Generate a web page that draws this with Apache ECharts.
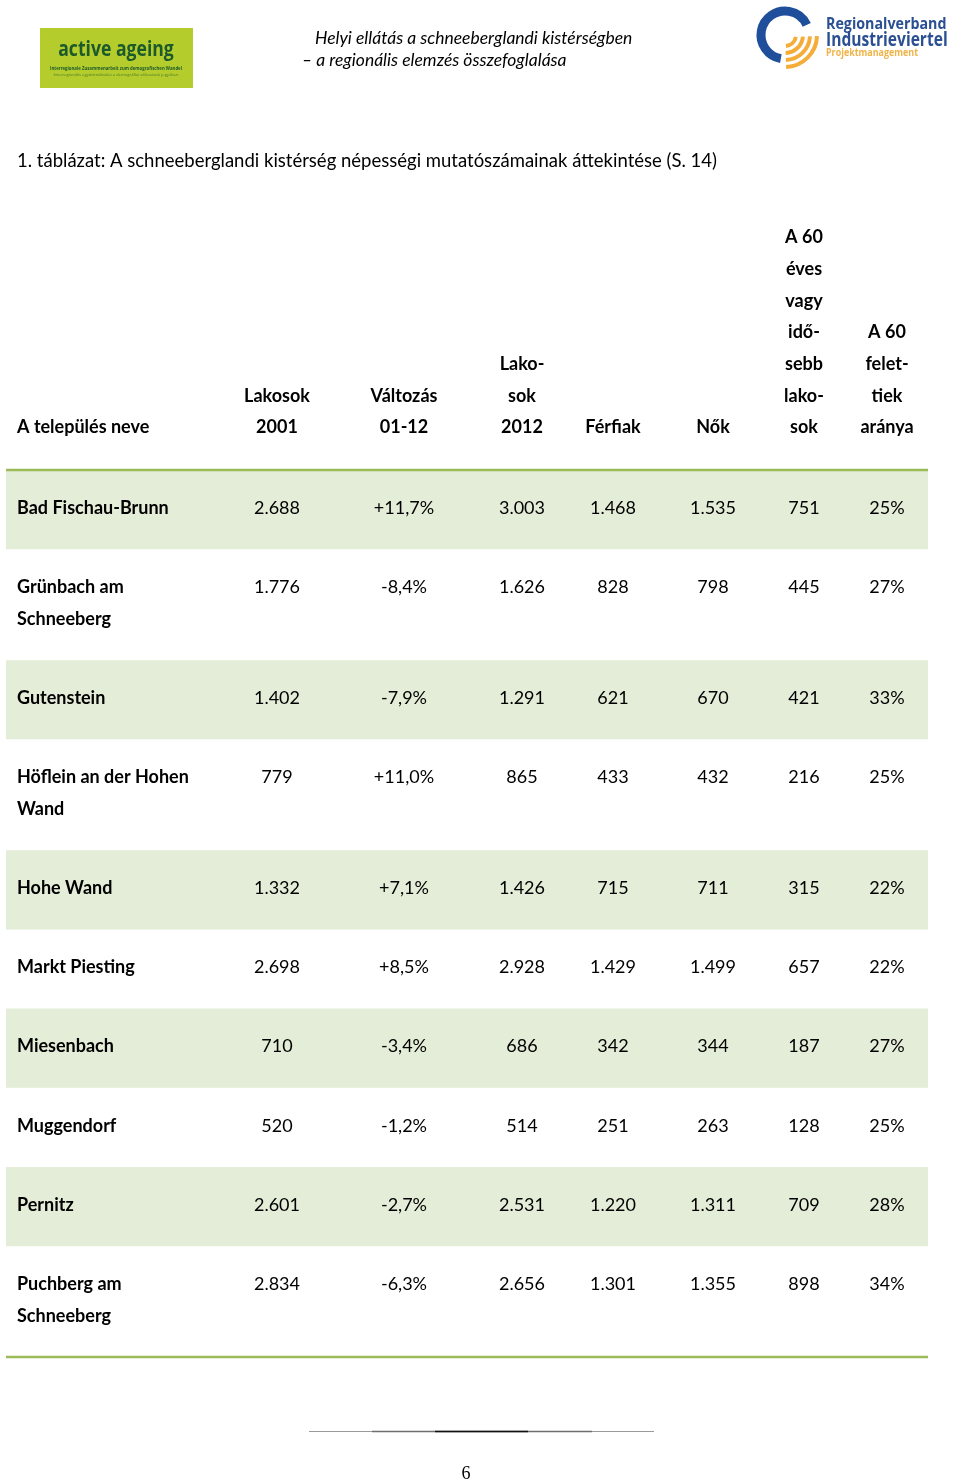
<!DOCTYPE html>
<html><head><meta charset="utf-8">
<script src="https://cdn.jsdelivr.net/npm/echarts@6/dist/echarts.min.js"></script>
<style>html,body{margin:0;padding:0;background:#fff}#c{width:960px;height:1482px}</style>
</head><body><div id="c"></div>
<script>
// ---- data ----
const headerLines = [
  ["A település neve"],
  ["Lakosok", "2001"],
  ["Változás", "01-12"],
  ["Lako-", "sok", "2012"],
  ["Férfiak"],
  ["Nők"],
  ["A 60", "éves", "vagy", "idő-", "sebb", "lako-", "sok"],
  ["A 60", "felet-", "tiek", "aránya"]
];
const municipalities = ["Bad Fischau-Brunn", "Grünbach am\nSchneeberg", "Gutenstein", "Höflein an der Hohen\nWand", "Hohe Wand", "Markt Piesting", "Miesenbach", "Muggendorf", "Pernitz", "Puchberg am\nSchneeberg"];
const pop2001 = [2688, 1776, 1402, 779, 1332, 2698, 710, 520, 2601, 2834];
const change0112 = [11.7, -8.4, -7.9, 11.0, 7.1, 8.5, -3.4, -1.2, -2.7, -6.3];
const pop2012 = [3003, 1626, 1291, 865, 1426, 2928, 686, 514, 2531, 2656];
const men = [1468, 828, 621, 433, 715, 1429, 342, 251, 1220, 1301];
const women = [1535, 798, 670, 432, 711, 1499, 344, 263, 1311, 1355];
const over60 = [751, 445, 421, 216, 315, 657, 187, 128, 709, 898];
const share60 = [25, 27, 33, 25, 22, 22, 27, 25, 28, 34];

// ---- layout / style ----
const FONT = 'Lato';
const colX = [17, 277, 404, 522, 613, 713, 804, 887];
const bandColor = '#e4edd7';
const ruleColor = '#9bbb59';

const fmtInt = v => String(v).replace(/\B(?=(\d{3})+(?!\d))/g, '.');
const fmtPct = v => (v > 0 ? '+' : '') + v.toFixed(1).replace('.', ',') + '%';

const rows = [];
let acc = 0;
municipalities.forEach((name, i) => {
  const lines = name.split('\n').length;
  const h = lines + 1.5;
  rows.push([i, acc, acc + h]);
  acc += h;
});
const totalUnits = acc;

function cellTexts(i) {
  return [municipalities[i], fmtInt(pop2001[i]), fmtPct(change0112[i]), fmtInt(pop2012[i]),
    fmtInt(men[i]), fmtInt(women[i]), fmtInt(over60[i]), share60[i] + '%'];
}

const chart = echarts.init(document.getElementById('c'), null, {renderer: 'canvas'});
chart.setOption({
  animation: false,
  backgroundColor: '#fff',
  title: {
    text: '1. táblázat: A schneeberglandi kistérség népességi mutatószámainak áttekintése (S. 14)',
    left: 17, top: 152, padding: 0,
    textStyle: {fontFamily: FONT, fontSize: 18.5, fontWeight: 'normal', color: '#000'}
  },
  grid: {left: 0, right: 0, top: 185, bottom: 125},
  xAxis: {type: 'value', min: 0, max: 960, show: false},
  yAxis: {type: 'value', inverse: true, min: -9, max: totalUnits, show: false},
  series: [
    {
      type: 'custom',
      name: 'header',
      data: [[0]],
      renderItem(params, api) {
        const children = [];
        headerLines.forEach((lines, c) => {
          const n = lines.length;
          lines.forEach((t, k) => {
            const j = n - 1 - k; // from bottom
            const p = api.coord([colX[c], -1.36 - j]);
            children.push({
              type: 'text',
              style: {
                text: t, x: p[0], y: p[1] + 0.5,
                align: c === 0 ? 'left' : 'center', verticalAlign: 'middle',
                font: 'bold 18px ' + FONT, fill: '#000'
              }
            });
          });
        });
        return {type: 'group', children};
      }
    },
    {
      type: 'custom',
      name: 'rows',
      data: rows,
      renderItem(params, api) {
        const i = api.value(0), y0 = api.value(1), y1 = api.value(2);
        const a = api.coord([6, y0]), b = api.coord([928, y1]);
        const children = [];
        if (i % 2 === 0) {
          children.push({type: 'rect', shape: {x: a[0], y: a[1], width: b[0] - a[0], height: b[1] - a[1]},
            style: {fill: bandColor}});
        }
        if (i === 0) {
          children.push({type: 'line', shape: {x1: a[0], y1: a[1], x2: b[0], y2: a[1]},
            style: {stroke: ruleColor, lineWidth: 2.5}});
        }
        if (i === municipalities.length - 1) {
          children.push({type: 'line', shape: {x1: a[0], y1: b[1], x2: b[0], y2: b[1]},
            style: {stroke: ruleColor, lineWidth: 2.5}});
        }
        cellTexts(i).forEach((txt, c) => {
          txt.split('\n').forEach((t, k) => {
            const p = api.coord([colX[c], y0 + 1.17 + k]);
            children.push({
              type: 'text',
              style: {
                text: t, x: p[0], y: p[1] + 1,
                align: c === 0 ? 'left' : 'center', verticalAlign: 'middle',
                font: (c === 0 ? 'bold ' : '') + '18px ' + FONT, fill: '#000'
              }
            });
          });
        });
        return {type: 'group', children};
      }
    }
  ],
  graphic: [
    // left logo
    {type: 'rect', shape: {x: 40, y: 28, width: 153, height: 60}, style: {fill: '#b5cd2c'}},
    {type: 'text', x: 116, y: 50, scaleX: 0.8, style: {text: 'active ageing', x: 0, y: 0, align: 'center', verticalAlign: 'middle',
      font: 'bold 22px "Open Sans"', fill: '#1d5a2b'}},
    {type: 'text', style: {text: 'Interregionale Zusammenarbeit zum demografischen Wandel', x: 116, y: 69, align: 'center', verticalAlign: 'middle',
      font: 'bold 4.3px "Open Sans"', fill: '#1d5a2b'}},
    {type: 'text', style: {text: 'Interregionális együttműködés a demográfiai változások jegyében', x: 116, y: 74.5, align: 'center', verticalAlign: 'middle',
      font: '4.1px "Open Sans"', fill: '#4b7a2a'}},
    // header italic
    {type: 'text', style: {text: 'Helyi ellátás a schneeberglandi kistérségben', x: 315, y: 38, align: 'left', verticalAlign: 'middle',
      font: 'italic 17.5px ' + FONT, fill: '#000'}},
    {type: 'text', style: {text: '– a regionális elemzés összefoglalása', x: 302, y: 60, align: 'left', verticalAlign: 'middle',
      font: 'italic 17.5px ' + FONT, fill: '#000'}},
    // right logo
    {type: 'arc', shape: {cx: 785, cy: 35, r: 24, startAngle: 100 * Math.PI / 180, endAngle: 335 * Math.PI / 180, clockwise: true},
      style: {stroke: '#1f4f9a', lineWidth: 9, fill: null}},
    {type: 'arc', shape: {cx: 785, cy: 35, r: 11, startAngle: 10 * Math.PI / 180, endAngle: 85 * Math.PI / 180},
      style: {stroke: '#f5ad3a', lineWidth: 4, fill: null}},
    {type: 'arc', shape: {cx: 785, cy: 35, r: 18, startAngle: 5 * Math.PI / 180, endAngle: 88 * Math.PI / 180},
      style: {stroke: '#f5ad3a', lineWidth: 4, fill: null}},
    {type: 'arc', shape: {cx: 785, cy: 35, r: 25, startAngle: 3 * Math.PI / 180, endAngle: 88 * Math.PI / 180},
      style: {stroke: '#f5ad3a', lineWidth: 4, fill: null}},
    {type: 'arc', shape: {cx: 785, cy: 35, r: 32, startAngle: 2 * Math.PI / 180, endAngle: 88 * Math.PI / 180},
      style: {stroke: '#f5ad3a', lineWidth: 4, fill: null}},
    {type: 'text', x: 826, y: 25, scaleX: 0.92, style: {text: 'Regionalverband', x: 0, y: 0, align: 'left', verticalAlign: 'middle',
      font: 'bold 15.5px "Open Sans"', fill: '#2a4f92'}},
    {type: 'text', x: 826, y: 40.5, scaleX: 0.82, style: {text: 'Industrieviertel', x: 0, y: 0, align: 'left', verticalAlign: 'middle',
      font: 'bold 19px "Open Sans"', fill: '#2a4f92'}},
    {type: 'text', x: 826, y: 53, scaleX: 0.85, style: {text: 'Projektmanagement', x: 0, y: 0, align: 'left', verticalAlign: 'middle',
      font: 'bold 10.5px "Open Sans"', fill: '#f0b347'}},
    // footer
    {type: 'line', shape: {x1: 309, y1: 1431.5, x2: 654, y2: 1431.5}, style: {stroke: '#9a9a9a', lineWidth: 1}},
    {type: 'line', shape: {x1: 372, y1: 1431.5, x2: 592, y2: 1431.5}, style: {stroke: '#6e6e6e', lineWidth: 1.5}},
    {type: 'line', shape: {x1: 435, y1: 1431.5, x2: 528, y2: 1431.5}, style: {stroke: '#111', lineWidth: 1.5}},
    {type: 'text', style: {text: '6', x: 466, y: 1474, align: 'center', verticalAlign: 'middle',
      font: '18px "Liberation Serif"', fill: '#000'}}
  ]
});
</script>
</body></html>
